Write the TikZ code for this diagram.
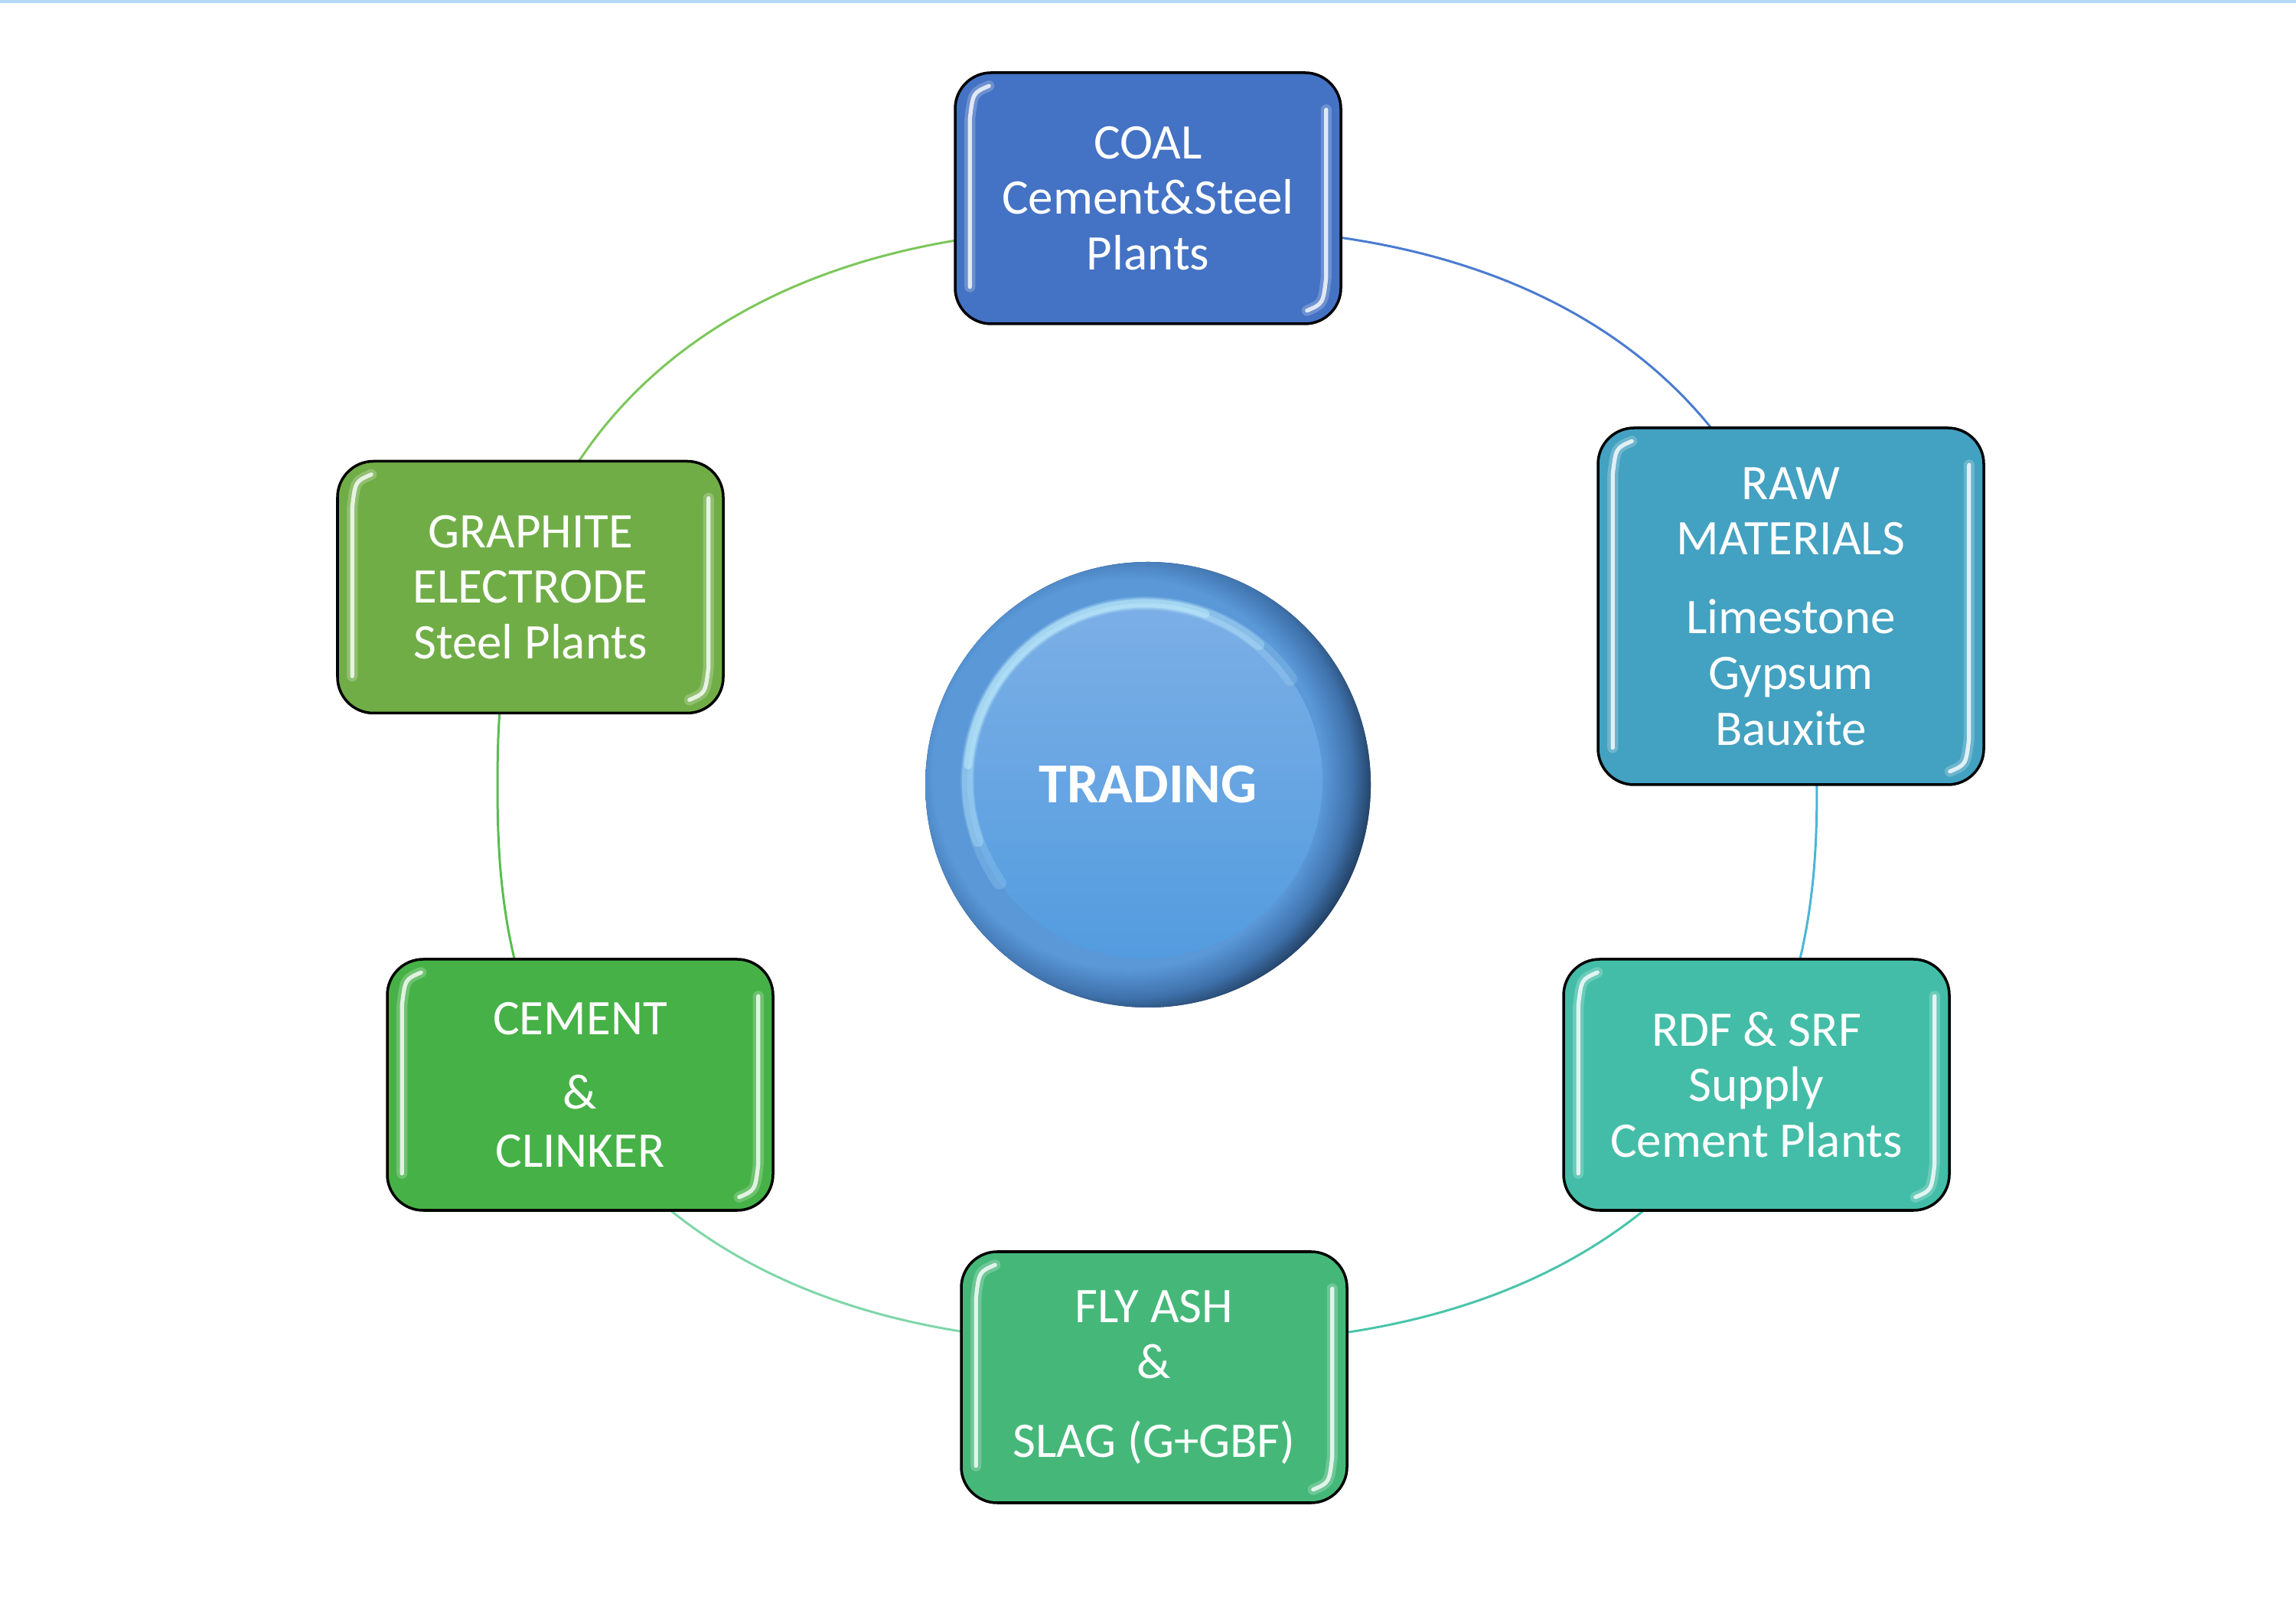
\documentclass[tikz,border=0pt]{standalone}
\usepackage{fontspec}
\setmainfont{Carlito}
\usetikzlibrary{calc}
\definecolor{coalC}{HTML}{4472C4}
\definecolor{rawC}{HTML}{43A1C1}
\definecolor{rdfC}{HTML}{43BDA7}
\definecolor{flyC}{HTML}{45B879}
\definecolor{cemC}{HTML}{46B147}
\definecolor{graC}{HTML}{70AD47}
\definecolor{ringBlue}{HTML}{4A7BD0}
\definecolor{ringGreenTop}{HTML}{7CC65A}
\definecolor{ringGreenLeft}{HTML}{58BE50}
\definecolor{ringMint}{HTML}{7FD6A8}
\definecolor{ringTeal}{HTML}{4AC4AA}
\definecolor{ringCyan}{HTML}{4CB5D6}
\definecolor{btnDark}{HTML}{1A3350}
\definecolor{btnMD}{HTML}{3F72AC}
\definecolor{btnMid}{HTML}{5A98D8}
\definecolor{btnTop}{HTML}{7CAFE6}
\definecolor{btnBot}{HTML}{539CDF}
\definecolor{btnHL}{HTML}{C8F4FF}
\definecolor{topLine}{HTML}{B4D8F5}
\pgfdeclareradialshading{btnrad}{\pgfpoint{0bp}{0bp}}{color(0bp)=(btnMid); color(19bp)=(btnMid); color(21.8bp)=(btnMD); color(24.5bp)=(btnDark); color(50bp)=(btnDark)}
\tikzset{
  declare function={sx(\t)=cos(\t)*pow(abs(cos(\t))+0.0001,-0.1667);
                    sy(\t)=sin(\t)*pow(abs(sin(\t))+0.0001,-0.1667);},
  box/.style={rectangle, rounded corners=0.47cm, draw=black, line width=1pt,
    minimum width=5.04cm, minimum height=3.28cm, text=white, align=center,
    font=\fontsize{18.5}{20.7}\selectfont, inner sep=0pt},
  ring/.style={line width=0.85pt},
  gloss/.style={white, line width=1.5pt, opacity=0.8, line cap=round},
  glow/.style={white, line width=4pt, opacity=0.22, line cap=round},
  hl/.style={btnHL, line cap=round},
}
\newcommand\boxgloss[1]{%
  \foreach \st in {glow,gloss}{%
    \draw[\st] ($(#1.north west)+(0.46,-0.19)$) .. controls ($(#1.north west)+(0.25,-0.28)$) .. ($(#1.north west)+(0.21,-0.62)$) -- ($(#1.south west)+(0.21,0.5)$);
    \draw[\st] ($(#1.north east)+(-0.21,-0.5)$) -- ($(#1.south east)+(-0.21,0.62)$) .. controls ($(#1.south east)+(-0.25,0.28)$) .. ($(#1.south east)+(-0.46,0.19)$);
  }}
\begin{document}
\begin{tikzpicture}
\useasboundingbox (0,0) rectangle (30,21.19);
\fill[topLine] (0,21.15) rectangle (30,21.19);

% ring
\draw[ring, ringBlue] plot[domain=18:90, samples=60, variable=\t] ({15.12+8.62*sx(\t)},{10.93+7.30*sy(\t)});
\draw[ring, ringGreenTop] plot[domain=90:162, samples=60, variable=\t] ({15.12+8.62*sx(\t)},{10.93+7.30*sy(\t)});
\draw[ring, ringGreenLeft] plot[domain=162:208, samples=50, variable=\t] ({15.12+8.62*sx(\t)},{10.93+7.30*sy(\t)});
\draw[ring, ringMint] plot[domain=208:270, samples=60, variable=\t] ({15.12+8.62*sx(\t)},{10.93+7.30*sy(\t)});
\draw[ring, ringTeal] plot[domain=270:333, samples=60, variable=\t] ({15.12+8.62*sx(\t)},{10.93+7.30*sy(\t)});
\draw[ring, ringCyan] plot[domain=333:378, samples=50, variable=\t] ({15.12+8.62*sx(\t)},{10.93+7.30*sy(\t)});

% boxes
\node[box, fill=coalC] (coal) at (15.00,18.60) {COAL\\Cement\&Steel\\Plants};
\node[box, fill=rawC, minimum height=4.66cm] (raw) at (23.40,13.27) {RAW\\MATERIALS\\[8.5pt]Limestone\\Gypsum\\Bauxite};
\node[box, fill=graC, minimum height=3.29cm] (gra) at (6.93,13.52) {GRAPHITE\\ELECTRODE\\Steel Plants};
\node[box, fill=cemC] (cem) at (7.58,7.02) {CEMENT\\[7pt]\&\\[1pt]CLINKER};
\node[box, fill=rdfC] (rdf) at (22.95,7.02) {RDF \& SRF\\Supply\\Cement Plants};
\node[box, fill=flyC] (fly) at (15.08,3.20) {FLY ASH\\\&\\[8.5pt]SLAG (G+GBF)};
\boxgloss{coal}\boxgloss{raw}\boxgloss{gra}\boxgloss{cem}\boxgloss{rdf}\boxgloss{fly}

% central button
\node[circle, minimum size=5.82cm, inner sep=0pt, text=white,
  font=\bfseries\fontsize{21}{24}\selectfont,
  path picture={
    \coordinate (bc) at (path picture bounding box.center);
    \fill[btnDark] (bc) circle (3cm);
    \shade[shading=btnrad] ($(bc)+(-0.26,0.14)$) circle (3.35cm);
    \shade[top color=btnTop, bottom color=btnBot] ($(bc)+(-0.04,0.05)$) circle (2.32cm);
    \draw[hl, line width=5pt, opacity=0.18] ($(bc)+(-0.04,0.05)+(35:2.32)$) arc[start angle=35, end angle=215, radius=2.32cm];
    \draw[hl, line width=4pt, opacity=0.3] ($(bc)+(-0.04,0.05)+(50:2.32)$) arc[start angle=50, end angle=200, radius=2.32cm];
    \draw[hl, line width=3pt, opacity=0.45] ($(bc)+(-0.04,0.05)+(70:2.32)$) arc[start angle=70, end angle=175, radius=2.32cm];
  }] (trading) at (15.00,10.94) {TRADING};
\end{tikzpicture}
\end{document}
